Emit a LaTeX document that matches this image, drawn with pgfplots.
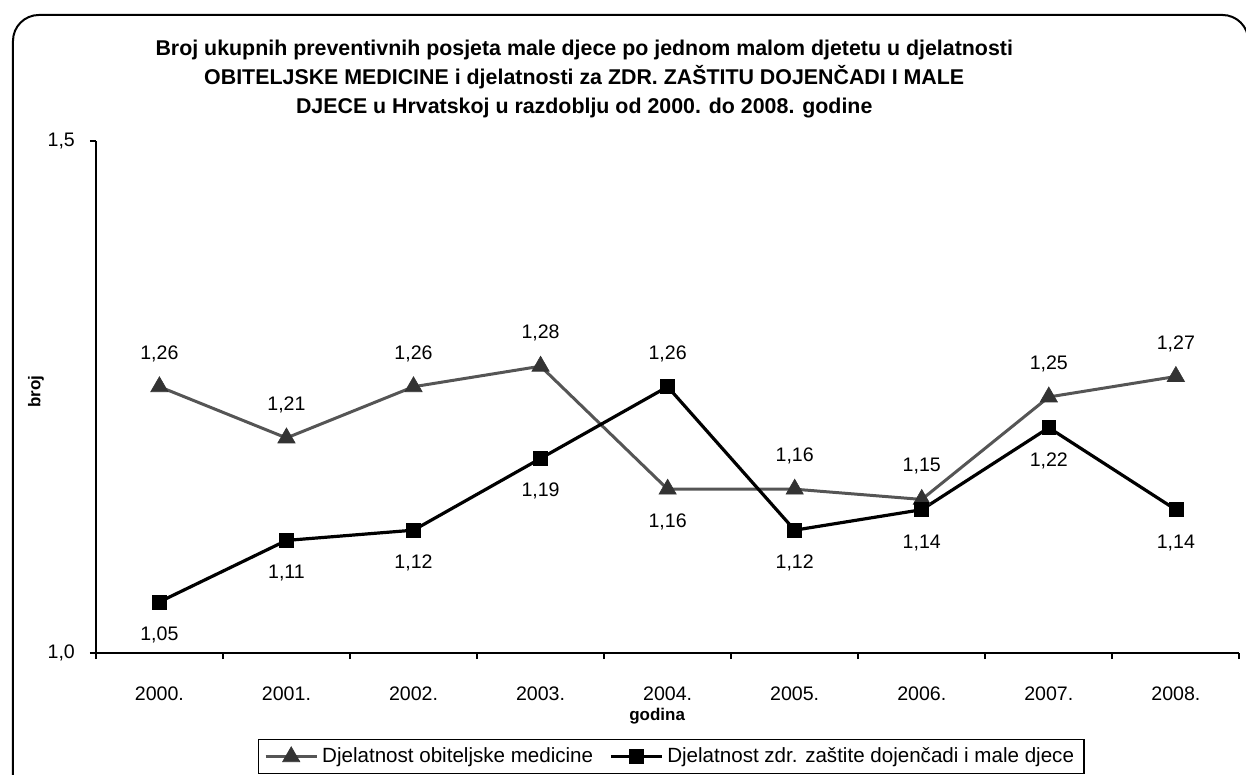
\documentclass[border=0pt]{standalone}
\usepackage{fontspec}
\setmainfont{Liberation Sans}
\usepackage{pgfplots}
\pgfplotsset{compat=1.18}
\usepackage{pgfplotstable}

\pgfplotstableread{
x y pos
0 1.26 1
1 1.21 1
2 1.26 1
3 1.28 1
4 1.16 -1
5 1.16 1
6 1.15 1
7 1.25 1
8 1.27 1
}\obit

\pgfplotstableread{
x y pos
0 1.05 -1
1 1.11 -1
2 1.12 -1
3 1.19 -1
4 1.26 1
5 1.12 -1
6 1.14 -1
7 1.22 -1
8 1.14 -1
}\djec

\definecolor{trigray}{HTML}{333333}
\definecolor{linegray}{HTML}{555555}

\begin{document}
\begin{tikzpicture}
\begin{scope}[x=0.5bp,y=-0.5bp,shift={(0,769bp*0.5)}]
\useasboundingbox (0,0) rectangle (1246,769);
\draw[line width=1bp, rounded corners=13bp] (13,820) -- (13,15) -- (1250,15) -- (1250,820);
\node[font=\fontsize{10.7bp}{14.5bp}\selectfont\bfseries, align=center] at (585,79)
  {Broj ukupnih preventivnih posjeta male djece po jednom malom djetetu u djelatnosti\\
   OBITELJSKE MEDICINE i djelatnosti za ZDR. ZAŠTITU DOJENČADI I MALE\\
   DJECE u Hrvatskoj u razdoblju od 2000. do 2008. godine};
\node[font=\fontsize{8.5bp}{10bp}\selectfont\bfseries, rotate=90] at (36,392) {broj};
\node[font=\fontsize{8.5bp}{10bp}\selectfont\bfseries] at (658,717) {godina};
\end{scope}
\begin{axis}[
  at={(48bp,57.5bp)}, anchor=south west,
  scale only axis, width=572.5bp, height=256.5bp,
  xmin=-0.5, xmax=8.5, ymin=1, ymax=1.5,
  axis x line*=bottom, axis y line*=left,
  axis line style={line width=1.2bp, -},
  ytick={1,1.5},
  xtick={-0.5,0.5,...,8.5},
  xticklabels={},
  extra x ticks={0,1,...,8},
  extra x tick labels={2000.,2001.,2002.,2003.,2004.,2005.,2006.,2007.,2008.},
  extra x tick style={major tick length=0pt, xticklabel style={yshift=-13.5bp}},
  tick align=outside, major tick length=3bp,
  tick style={black, line width=1bp},
  ticklabel style={font=\fontsize{9.8bp}{11bp}\selectfont},
  yticklabel style={xshift=-4bp, /pgf/number format/use comma, /pgf/number format/fixed,
     /pgf/number format/fixed zerofill, /pgf/number format/precision=1},
  /pgf/number format/assume math mode=true,
  clip=false,
  nodes near coords,
  nodes near coords style={font=\fontsize{9.8bp}{11bp}\selectfont, black, anchor=center,
     /pgf/number format/use comma, /pgf/number format/fixed, /pgf/number format/fixed zerofill,
     /pgf/number format/precision=2, /pgf/number format/assume math mode=true},
  visualization depends on={\thisrow{pos} \as \lpos},
  every node near coord/.append style={yshift=\lpos*16.5bp},
  legend style={at={(0.1415,-0.168)}, anchor=north west, draw=black, line width=0.6bp,
     font=\fontsize{10.3bp}{11bp}\selectfont, legend columns=2,
     /tikz/every even column/.append style={column sep=6bp}},
  legend image code/.code={
     \draw[mark repeat=2,mark phase=2] plot coordinates {(0cm,0cm) (0.45cm,0cm) (0.9cm,0cm)};},
]
\addplot[linegray, line width=1.5bp, mark=triangle*, mark size=5bp,
  mark options={fill=trigray, draw=trigray, line width=0.3bp}] table[x=x,y=y] {\obit};
\addlegendentry{Djelatnost obiteljske medicine}
\addplot[black, line width=1.6bp, mark=square*, mark size=3.5bp,
  mark options={fill=black, line width=0.3bp}] table[x=x,y=y] {\djec};
\addlegendentry{Djelatnost zdr. zaštite dojenčadi i male djece}
\end{axis}
\end{tikzpicture}
\end{document}
